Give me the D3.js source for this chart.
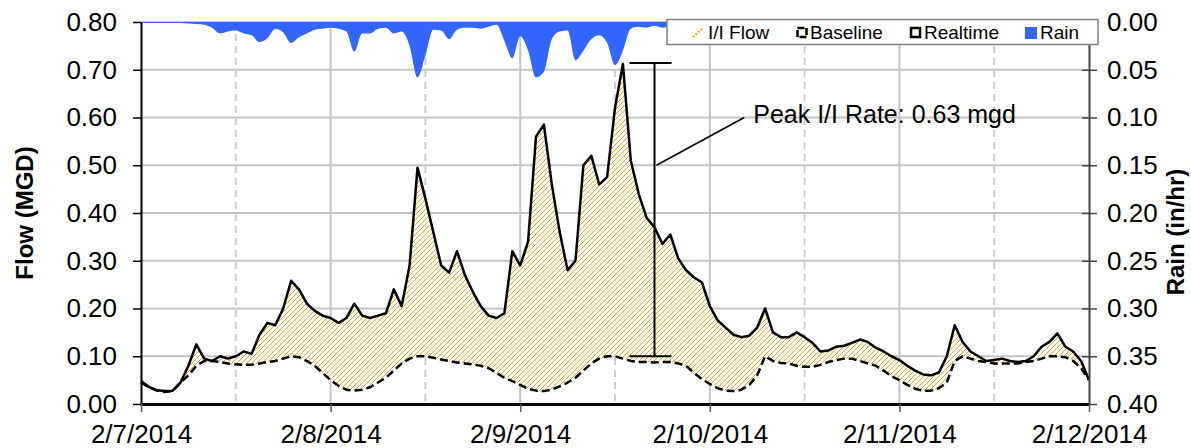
<!DOCTYPE html>
<html lang="en">
<head>
<meta charset="UTF-8">
<title>I/I Flow</title>
<script src="https://cdn.jsdelivr.net/npm/d3@7"></script>
<style>
  body { margin: 0; background: #fff; }
  svg { display: block; font-family: "Liberation Sans", Arial, sans-serif; }
</style>
</head>
<body>
<svg width="1191" height="448"></svg>
<script>
// hourly readings, 2/7/2014 00:00 -> 2/12/2014 00:00
var startLabel = "2/7/2014";
var dayLabels = ["2/7/2014", "2/8/2014", "2/9/2014", "2/10/2014", "2/11/2014", "2/12/2014"];
var flowTicks = [0, 0.1, 0.2, 0.3, 0.4, 0.5, 0.6, 0.7, 0.8];
var rainTicks = [0, 0.05, 0.1, 0.15, 0.2, 0.25, 0.3, 0.35, 0.4];
var seriesNames = ["I/I Flow", "Baseline", "Realtime", "Rain"];

var realtime = [
  0.048, 0.036, 0.029, 0.027, 0.028, 0.045, 0.08, 0.125, 0.095, 0.09, 0.10, 0.095,
  0.10, 0.11, 0.105, 0.145, 0.17, 0.165, 0.20, 0.258, 0.24, 0.21, 0.195, 0.185,
  0.18, 0.17, 0.18, 0.21, 0.185, 0.18, 0.185, 0.19, 0.24, 0.205, 0.29, 0.495,
  0.43, 0.36, 0.29, 0.275, 0.32, 0.27, 0.235, 0.205, 0.185, 0.18, 0.19, 0.32,
  0.29, 0.34, 0.56, 0.585, 0.46, 0.36, 0.28, 0.30, 0.50, 0.52, 0.46, 0.475,
  0.62, 0.712, 0.51, 0.44, 0.39, 0.37, 0.335, 0.355, 0.305, 0.28, 0.265, 0.255,
  0.205, 0.175, 0.16, 0.145, 0.14, 0.143, 0.16, 0.20, 0.15, 0.14, 0.14, 0.15,
  0.14, 0.128, 0.11, 0.112, 0.12, 0.122, 0.128, 0.135, 0.13, 0.118, 0.11, 0.10,
  0.092, 0.08, 0.07, 0.062, 0.06, 0.066, 0.10, 0.165, 0.13, 0.11, 0.10, 0.09,
  0.092, 0.095, 0.09, 0.088, 0.09, 0.10, 0.12, 0.13, 0.148, 0.12, 0.11, 0.09,
  0.05
];

var baseline = [
  0.045, 0.035, 0.028, 0.025, 0.027, 0.045, 0.06, 0.08, 0.09, 0.09, 0.088, 0.085,
  0.083, 0.082, 0.082, 0.085, 0.088, 0.09, 0.095, 0.10, 0.098, 0.09, 0.08, 0.065,
  0.05, 0.038, 0.03, 0.028, 0.03, 0.035, 0.045, 0.055, 0.07, 0.085, 0.095, 0.10,
  0.10, 0.097, 0.093, 0.09, 0.087, 0.085, 0.083, 0.08, 0.075, 0.065, 0.055, 0.048,
  0.04, 0.032, 0.028, 0.027, 0.03, 0.037, 0.045, 0.055, 0.07, 0.085, 0.095, 0.10,
  0.10, 0.095, 0.09, 0.088, 0.088, 0.087, 0.088, 0.088, 0.085, 0.08, 0.065, 0.052,
  0.042, 0.033, 0.028, 0.027, 0.03, 0.04, 0.06, 0.10, 0.09, 0.086, 0.085, 0.08,
  0.078, 0.078, 0.082, 0.088, 0.092, 0.095, 0.095, 0.09, 0.085, 0.08, 0.07, 0.058,
  0.05, 0.04, 0.032, 0.028, 0.028, 0.033, 0.045, 0.09, 0.10, 0.095, 0.09, 0.088,
  0.085, 0.085, 0.085, 0.085, 0.088, 0.09, 0.095, 0.10, 0.10, 0.098, 0.09, 0.075,
  0.05
];

var rain = [
  0.001, 0.001, 0.001, 0.001, 0.001, 0.001, 0.0015, 0.002, 0.003, 0.006, 0.012, 0.01,
  0.009, 0.012, 0.014, 0.021, 0.017, 0.007, 0.011, 0.022, 0.016, 0.012, 0.008, 0.007,
  0.006, 0.007, 0.01, 0.031, 0.012, 0.012, 0.007, 0.006, 0.012, 0.01, 0.025, 0.058,
  0.035, 0.008, 0.009, 0.018, 0.008, 0.006, 0.006, 0.007, 0.005, 0.003, 0.02, 0.038,
  0.015, 0.03, 0.058, 0.052, 0.018, 0.01, 0.009, 0.04, 0.03, 0.018, 0.014, 0.022,
  0.045, 0.03, 0.007, 0.005, 0.006, 0.004, 0.006, 0.005, 0.005, 0.004, 0.003, 0.003,
  0.004, 0.005, 0.004, 0.003, 0.004, 0.006, 0.005, 0.004, 0.003, 0.003, 0.004, 0.003,
  0.003, 0.002, 0.003, 0.004, 0.003, 0.002, 0.002, 0.003, 0.002, 0.002, 0.002, 0.002,
  0.002, 0.002, 0.002, 0.002, 0.002, 0.003, 0.004, 0.003, 0.002, 0.002, 0.002, 0.002,
  0.002, 0.002, 0.002, 0.002, 0.002, 0.003, 0.003, 0.002, 0.002, 0.002, 0.002, 0.002,
  0.002
];

// annotation: peak I/I bar
var peakHour = 65;
var peakTop = 0.714;
var peakBottom = 0.10;
var peakLabelHour = 77.5;
var peakLabelValue = 0.60;
var peakText = "Peak I/I Rate: 0.63 mgd";

var plotLeft = 141, plotRight = 1089, plotTop = 22, plotBottom = 404;
var orange = "#f7a010", blue = "#3366ff", grid = "#c4c4c4";

var svg = d3.select("svg");
var parseDay = d3.timeParse("%-m/%-d/%Y");
var days = dayLabels.map(parseDay);
var start = parseDay(startLabel);
function hourDate(i) { return d3.timeMinute.offset(start, Math.round(i * 60)); }

var x = d3.scaleTime().domain([days[0], days[days.length - 1]]).range([plotLeft, plotRight]);
var yL = d3.scaleLinear().domain([0, 0.8]).range([plotBottom, plotTop]);
var yR = d3.scaleLinear().domain([0, 0.4]).range([plotTop, plotBottom]);

var rows = realtime.map(function (v, i) {
  return { t: hourDate(i), real: v, base: baseline[i], rain: rain[i] };
});

// hatch pattern for I/I fill (pixel-stepped diagonals)
var defs = svg.append("defs");
var pat = defs.append("pattern").attr("id", "hatch")
  .attr("patternUnits", "userSpaceOnUse").attr("width", 5).attr("height", 5);
pat.append("rect").attr("width", 5).attr("height", 5).attr("fill", "#fff");
pat.append("path").attr("d", "M-1,1 L1,-1 M0,5 L5,0 M4,6 L6,4")
  .attr("stroke", orange).attr("stroke-width", 1.2)
  .attr("shape-rendering", "crispEdges");

// grid
var gridG = svg.append("g");
gridG.selectAll(".hgrid").data(flowTicks.slice(1)).enter().append("line")
  .attr("x1", plotLeft).attr("x2", plotRight)
  .attr("y1", function (d) { return yL(d); }).attr("y2", function (d) { return yL(d); })
  .attr("stroke", grid).attr("stroke-width", 2);
gridG.selectAll(".vgrid").data(days.slice(1, -1)).enter().append("line")
  .attr("x1", function (d) { return x(d); }).attr("x2", function (d) { return x(d); })
  .attr("y1", plotTop).attr("y2", plotBottom)
  .attr("stroke", grid).attr("stroke-width", 2);
gridG.selectAll(".vhalf").data(days.slice(0, -1).map(function (d) { return d3.timeHour.offset(d, 12); }))
  .enter().append("line")
  .attr("x1", function (d) { return x(d); }).attr("x2", function (d) { return x(d); })
  .attr("y1", plotTop).attr("y2", plotBottom)
  .attr("stroke", "#cccccc").attr("stroke-width", 2).attr("stroke-dasharray", "7,5");

// I/I fill between baseline and realtime
svg.append("path").datum(rows)
  .attr("fill", "url(#hatch)")
  .attr("d", d3.area()
    .x(function (d) { return x(d.t); })
    .y0(function (d) { return yL(d.base); })
    .y1(function (d) { return yL(d.real); }));

svg.append("path").datum(rows)
  .attr("fill", "none").attr("stroke", "#000").attr("stroke-width", 2.5)
  .attr("stroke-dasharray", "8,4").attr("stroke-linejoin", "round")
  .attr("d", d3.line().x(function (d) { return x(d.t); }).y(function (d) { return yL(d.base); }));

svg.append("path").datum(rows)
  .attr("fill", "none").attr("stroke", "#000").attr("stroke-width", 2.5)
  .attr("stroke-linejoin", "round")
  .attr("d", d3.line().x(function (d) { return x(d.t); }).y(function (d) { return yL(d.real); }));

// rain hangs from the top
svg.append("path").datum(rows)
  .attr("fill", blue)
  .attr("d", d3.area().curve(d3.curveMonotoneX)
    .x(function (d) { return x(d.t); })
    .y0(yR(0))
    .y1(function (d) { return yR(d.rain); }));

// axes
function styleAxis(g, size) {
  g.attr("font-family", null).attr("font-size", null);
  g.selectAll("text").attr("font-size", size).attr("fill", "#000");
}

svg.append("g").attr("transform", "translate(" + plotLeft + ",0)")
  .call(d3.axisLeft(yL).tickValues(flowTicks).tickFormat(d3.format(".2f"))
    .tickSize(8).tickSizeOuter(0).tickPadding(16))
  .call(function (g) {
    styleAxis(g, 26);
    g.select(".domain").attr("stroke", "#000").attr("stroke-width", 2);
    g.selectAll(".tick line").attr("stroke", "#000").attr("stroke-width", 1.5);
  });

svg.append("g").attr("transform", "translate(" + plotRight + ",0)")
  .call(d3.axisRight(yR).tickValues(rainTicks).tickFormat(d3.format(".2f"))
    .tickSize(8).tickSizeOuter(0).tickPadding(10))
  .call(function (g) {
    styleAxis(g, 26);
    g.select(".domain").attr("stroke", "#444").attr("stroke-width", 2);
    g.selectAll(".tick line").attr("x1", -7).attr("stroke", "#444").attr("stroke-width", 1.5);
  });

svg.append("g").attr("transform", "translate(0," + plotBottom + ")")
  .call(d3.axisBottom(x).tickValues(days).tickFormat(d3.timeFormat("%-m/%-d/%Y"))
    .tickSize(8).tickSizeOuter(0).tickPadding(13))
  .call(function (g) {
    styleAxis(g, 26);
    g.select(".domain").attr("stroke", "#000").attr("stroke-width", 3);
    g.selectAll(".tick line").attr("stroke", "#555").attr("stroke-width", 1.5);
  });

svg.append("text")
  .attr("transform", "translate(24," + (plotTop + plotBottom) / 2 + ") rotate(-90)")
  .attr("text-anchor", "middle").attr("dominant-baseline", "central")
  .attr("font-size", 24).attr("font-weight", "bold")
  .text("Flow (MGD)");

svg.append("text")
  .attr("transform", "translate(1175,232) rotate(-90)")
  .attr("text-anchor", "middle").attr("dominant-baseline", "central")
  .attr("font-size", 24).attr("font-weight", "bold")
  .text("Rain (in/hr)");

// peak annotation
var px = x(hourDate(peakHour));
var ann = svg.append("g").attr("stroke", "#000").attr("stroke-width", 2);
ann.append("line").attr("x1", px).attr("x2", px).attr("y1", yL(peakTop)).attr("y2", yL(peakBottom));
ann.append("line").attr("x1", px - 25).attr("x2", px + 17).attr("y1", yL(peakTop)).attr("y2", yL(peakTop));
ann.append("line").attr("x1", px - 25).attr("x2", px + 17).attr("y1", yL(peakBottom)).attr("y2", yL(peakBottom));
var lx = x(hourDate(peakLabelHour));
ann.append("line").attr("x1", px + 2).attr("y1", yL(0.5))
  .attr("x2", lx - 9).attr("y2", yL(peakLabelValue)).attr("stroke-width", 1.5);
svg.append("text").attr("x", lx).attr("y", yL(peakLabelValue)).attr("dy", "0.23em")
  .attr("font-size", 25).attr("fill", "#000").text(peakText);

// legend
var leg = svg.append("g");
leg.append("rect").attr("x", 667).attr("y", 19.5).attr("width", 431).attr("height", 25)
  .attr("fill", "#fff").attr("stroke", "#808080").attr("stroke-width", 1.5);
var legX = [708, 810, 924, 1040];
leg.append("line").attr("x1", 693).attr("y1", 37).attr("x2", 703).attr("y2", 28)
  .attr("stroke", orange).attr("stroke-width", 2).attr("stroke-dasharray", "2,1.5");
leg.append("rect").attr("x", 797.5).attr("y", 28).attr("width", 9).attr("height", 9)
  .attr("fill", "#fff").attr("stroke", "#000").attr("stroke-width", 2.5).attr("stroke-dasharray", "7,2");
leg.append("rect").attr("x", 911).attr("y", 28).attr("width", 9).attr("height", 9)
  .attr("fill", "#fff").attr("stroke", "#000").attr("stroke-width", 2.5);
leg.append("rect").attr("x", 1025).attr("y", 27).attr("width", 12).attr("height", 12)
  .attr("fill", blue);
leg.selectAll(".lt").data(seriesNames).enter().append("text")
  .attr("x", function (d, i) { return legX[i]; }).attr("y", 38.5)
  .attr("font-size", 19).attr("fill", "#000")
  .text(function (d) { return d; });
</script>
</body>
</html>
